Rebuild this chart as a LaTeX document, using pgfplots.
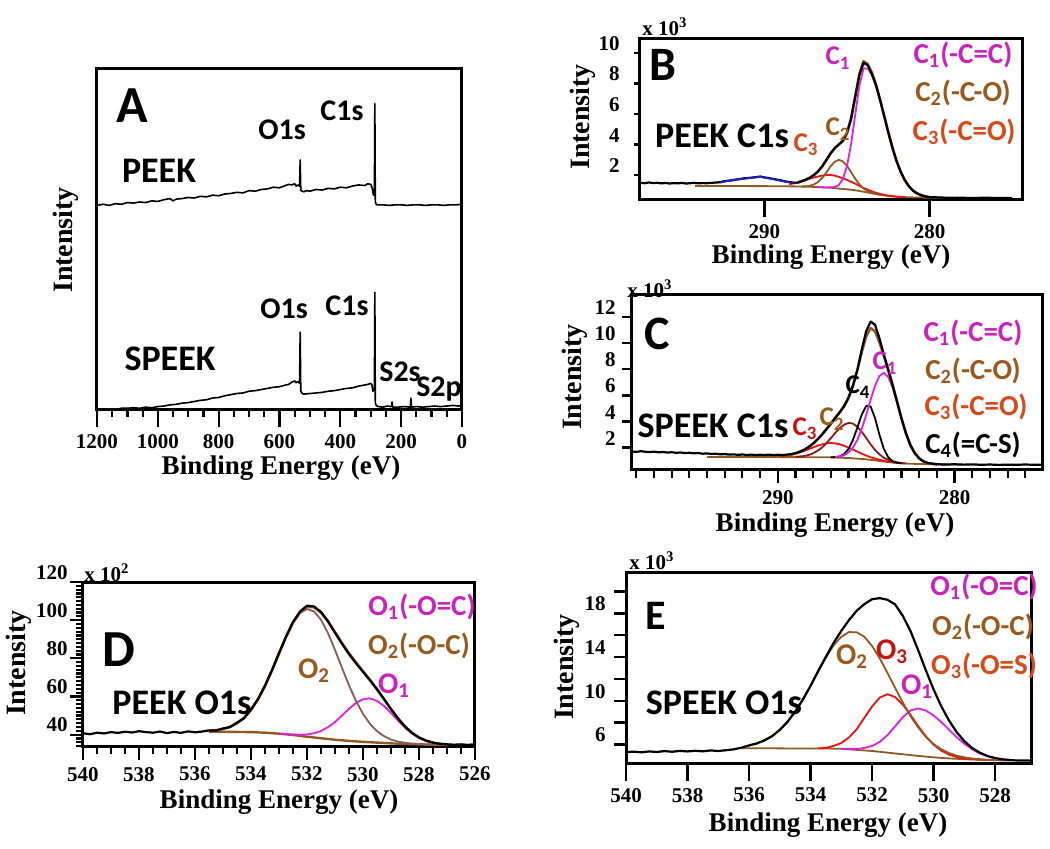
\documentclass[border=0pt]{standalone}
\usepackage{fontspec}
\setmainfont{Liberation Serif}
\newfontfamily\cb{Carlito}
\usepackage{pgfplots}
\pgfplotsset{compat=1.18}

\definecolor{magtxt}{HTML}{CC22BB}
\definecolor{brtxt}{HTML}{9A5A1E}
\definecolor{ortxt}{HTML}{D84818}
\definecolor{rdtxt}{HTML}{CC1010}
\definecolor{mcurve}{HTML}{E020E0}
\definecolor{bcurve}{HTML}{8E5A26}
\definecolor{rcurve}{HTML}{F01010}
\definecolor{maroon}{HTML}{8B1A1A}
\definecolor{dbrown}{HTML}{8A5C58}
\definecolor{bluec}{HTML}{2020D0}

\pgfplotsset{
  xps/.style={
    scale only axis, anchor=south west, x dir=reverse, no markers,
    axis line style={line width=1.5pt},
    tick style={line width=1.1pt, black},
    tick align=outside, scaled ticks=false,
    xtick pos=left, ytick pos=left,
    /pgf/number format/1000 sep={},
    /pgf/number format/assume math mode=true,
    xticklabel={\pgfmathprintnumber{\tick}},
    yticklabel={\pgfmathprintnumber{\tick}},
    ticklabel style={font=\bfseries\fontsize{10.5}{10.5}\selectfont},
    yticklabel style={anchor=south east, inner sep=1pt},
    every axis plot/.append style={line join=round},
  },
  dat/.style={black, line width=1.1pt},
  comp/.style={line width=0.9pt},
}

\begin{document}
\begin{tikzpicture}
\path[use as bounding box] (0,0) rectangle (525pt,-424.5pt);

% ---------------- A: survey
\begin{axis}[xps, at={(48.5pt,-205pt)}, width=182.5pt, height=170.5pt,
  xmin=0, xmax=1200, ymin=0, ymax=6,
  xtick={0,200,...,1200}, minor x tick num=3,
  ytick=\empty, minor ytick={1,2,3,4,5}, ytick align=inside, ytick pos=both,
  major tick length=8.5pt, minor tick length=3.5pt]
\addplot[black, line width=0.8pt] coordinates {
(1200,3.60)(1180,3.62)(1160,3.60)(1140,3.63)(1120,3.62)(1100,3.65)(1080,3.64)(1060,3.66)
(1040,3.65)(1020,3.68)(1000,3.67)(980,3.70)(960,3.72)(950,3.68)(940,3.71)(920,3.72)
(900,3.74)(880,3.73)(860,3.76)(840,3.75)(820,3.78)(800,3.77)(780,3.80)(760,3.81)
(740,3.83)(720,3.82)(700,3.86)(680,3.85)(660,3.88)(640,3.89)(620,3.92)(600,3.91)
(580,3.95)(570,3.97)(560,3.96)(550,3.98)(545,3.94)(540,3.96)(534,3.94)(532,4.40)
(530,3.86)(525,3.85)(520,3.84)(510,3.86)(500,3.85)(480,3.88)(460,3.87)(440,3.90)
(420,3.89)(400,3.92)(380,3.91)(360,3.94)(340,3.96)(320,3.95)(310,3.98)(300,3.97)
(295,3.90)(292,3.80)(290,3.78)(288,3.80)(286.5,5.39)(285,3.66)(282,3.62)(280,3.61)
(260,3.61)(240,3.60)(220,3.61)(200,3.61)(180,3.60)(160,3.61)(140,3.61)(120,3.60)
(100,3.61)(80,3.61)(60,3.60)(40,3.61)(20,3.61)(0,3.62)};
\addplot[black, line width=0.8pt] coordinates {
(1200,0.00)(1180,0.01)(1160,0.02)(1140,0.01)(1120,0.03)(1100,0.03)(1080,0.04)(1060,0.03)
(1040,0.05)(1020,0.04)(1000,0.06)(980,0.07)(960,0.09)(940,0.10)(920,0.12)(900,0.13)
(880,0.15)(860,0.17)(840,0.18)(820,0.21)(800,0.22)(780,0.25)(760,0.27)(740,0.29)
(720,0.30)(700,0.33)(680,0.34)(660,0.36)(640,0.38)(620,0.40)(600,0.41)(580,0.44)
(570,0.45)(560,0.49)(550,0.51)(545,0.48)(540,0.50)(534,0.47)(532,1.37)(530,0.33)
(525,0.29)(520,0.28)(500,0.29)(480,0.30)(460,0.31)(440,0.33)(420,0.34)(400,0.36)
(380,0.38)(360,0.39)(340,0.42)(320,0.44)(310,0.45)(300,0.47)(296,0.44)(293,0.33)
(290,0.35)(288,0.36)(286.5,2.07)(285,0.12)(282,0.08)(275,0.06)(260,0.05)(245,0.07)
(232,0.06)(230,0.14)(228,0.05)(210,0.05)(190,0.06)(170,0.05)(168,0.21)(166,0.05)
(150,0.06)(130,0.05)(110,0.06)(90,0.07)(70,0.06)(50,0.07)(30,0.08)(10,0.07)(0,0.08)};
\end{axis}

% ---------------- B: PEEK C1s
\begin{axis}[xps, at={(319.5pt,-100pt)}, width=191.5pt, height=80.5pt,
  xmin=274.4, xmax=297.6, ymin=0.36, ymax=10.92,
  xtick={280,290}, ytick={2,4,6,8,10},
  major tick length=8.5pt, y tick style={/pgfplots/major tick length=2.5pt}]
\addplot[bcurve, comp] coordinates {
(294.2,1.28)(293,1.28)(292,1.28)(291,1.27)(290,1.27)(289,1.26)(288,1.25)(287.5,1.23)
(287,1.22)(286.5,1.19)(286,1.17)(285.5,1.11)(285,1.06)(284.5,1.00)(284,0.90)(283.5,0.80)
(283,0.70)(282.5,0.63)(282,0.58)(281.5,0.55)(281,0.53)(280,0.51)(279,0.50)};
\addplot[rcurve, comp] coordinates {
(288.5,1.39)(288.25,1.45)(288,1.50)(287.75,1.58)(287.5,1.66)(287.25,1.75)(287,1.84)
(286.75,1.90)(286.5,1.96)(286.25,2.00)(286,2.00)(285.75,1.96)(285.5,1.88)(285.25,1.78)
(285,1.68)(284.75,1.55)(284.5,1.43)(284.25,1.29)(284,1.15)(283.75,1.04)(283.5,0.93)
(283.25,0.84)(283,0.76)(282.75,0.70)(282.5,0.65)(282,0.58)(281.5,0.55)};
\addplot[bcurve, comp] coordinates {
(287.75,1.25)(287.5,1.26)(287.25,1.30)(287,1.38)(286.75,1.54)(286.5,1.80)(286.25,2.16)
(286,2.56)(285.75,2.86)(285.5,3.00)(285.25,2.89)(285,2.60)(284.75,2.18)(284.5,1.75)
(284.25,1.39)(284,1.12)(283.75,0.95)(283.5,0.84)(283.25,0.76)(283,0.70)};
\addplot[mcurve, comp] coordinates {
(286.75,1.20)(286.5,1.19)(286.25,1.18)(286,1.19)(285.75,1.21)(285.5,1.34)(285.25,1.73)
(285,2.59)(284.75,4.04)(284.5,5.97)(284.25,7.87)(284,8.99)(283.75,8.99)(283.5,8.56)
(283.25,7.83)(283,6.89)(282.75,5.84)(282.5,4.78)(282.25,3.79)(282,2.92)(281.75,2.21)
(281.5,1.66)(281.25,1.26)(281,0.97)(280.75,0.79)(280.5,0.67)(280.25,0.59)(280,0.55)(279.5,0.52)};
\addplot[bcurve, line width=1.3pt] coordinates {
(288,1.50)(287.75,1.59)(287.5,1.69)(287.25,1.82)(287,2.00)(286.75,2.24)(286.5,2.57)
(286.25,2.98)(286,3.41)(285.75,3.75)(285.5,4.00)(285.25,4.24)(285,4.75)(284.75,5.71)
(284.5,7.15)(284.25,8.65)(284,9.46)(283.75,9.28)(283.5,8.73)(283.25,7.93)(283,6.95)
(282.75,5.88)(282.5,4.80)(282.25,3.80)(282,2.92)(281.75,2.21)(281.5,1.66)(281.25,1.26)
(281,0.97)(280.75,0.79)(280.5,0.67)(280.25,0.59)(280,0.55)};
\addplot[dat] coordinates {
(297.6,1.50)(297.25,1.46)(297,1.51)(296.75,1.47)(296.5,1.49)(296.25,1.45)(296,1.48)
(295.75,1.44)(295.5,1.47)(295.25,1.45)(295,1.48)(294.75,1.44)(294.5,1.46)(294.25,1.49)
(294,1.45)(293.75,1.47)(293.5,1.46)(293.25,1.48)(293,1.50)(292.75,1.52)(292.5,1.58)
(292.25,1.62)(292,1.65)(291.75,1.70)(291.5,1.73)(291.25,1.78)(291,1.80)(290.75,1.83)
(290.5,1.86)(290.25,1.90)(290,1.84)(289.75,1.80)(289.5,1.75)(289.25,1.70)(289,1.65)
(288.75,1.58)(288.5,1.54)(288.25,1.50)(288,1.50)(287.75,1.59)(287.5,1.69)(287.25,1.82)
(287,2.00)(286.75,2.24)(286.5,2.57)(286.25,2.98)(286,3.41)(285.75,3.75)(285.5,4.00)
(285.25,4.24)(285,4.75)(284.75,5.71)(284.5,7.15)(284.25,8.55)(284,9.36)(283.75,9.20)
(283.5,8.65)(283.25,7.93)(283,6.95)(282.75,5.88)(282.5,4.80)(282.25,3.80)(282,2.92)
(281.75,2.21)(281.5,1.66)(281.25,1.26)(281,0.97)(280.75,0.79)(280.5,0.67)(280.25,0.59)
(280,0.55)(279.5,0.53)(279,0.51)(278.5,0.50)(278,0.51)(277.5,0.49)(277,0.50)(276.5,0.51)
(276,0.49)(275.5,0.50)(275,0.50)};
\addplot[bluec, comp] coordinates {
(292.7,1.50)(292.25,1.60)(292,1.64)(291.5,1.72)(291,1.79)(290.5,1.85)(290.25,1.88)
(290,1.83)(289.5,1.73)(289,1.62)(288.5,1.52)(288.2,1.49)};
\end{axis}

% ---------------- C: SPEEK C1s
\begin{axis}[xps, at={(315.5pt,-235pt)}, width=206pt, height=87.5pt,
  xmin=275.0, xmax=298.3, ymin=0.28, ymax=13.7,
  xtick={280,290}, minor xtick={276,277,...,298}, ytick={2,4,...,12},
  major tick length=6.5pt, minor tick length=4pt,
  y tick style={/pgfplots/major tick length=4.5pt}]
\addplot[bcurve, comp] coordinates {
(294,1.28)(292,1.28)(290,1.27)(288,1.26)(287,1.25)(286.5,1.22)(286,1.20)(285.5,1.15)
(285,1.10)(284.5,1.02)(284,0.93)(283.5,0.85)(283,0.79)(282.5,0.76)(282,0.74)(281.5,0.72)
(281,0.71)(280.5,0.70)(279.5,0.70)};
\addplot[rcurve, comp] coordinates {
(289.75,1.34)(289.5,1.39)(289.25,1.45)(289,1.53)(288.75,1.63)(288.5,1.74)(288.25,1.87)
(288,2.01)(287.75,2.14)(287.5,2.24)(287.25,2.32)(287,2.35)(286.75,2.32)(286.5,2.25)
(286.25,2.14)(286,2.00)(285.75,1.85)(285.5,1.68)(285.25,1.53)(285,1.39)(284.75,1.26)
(284.5,1.16)(284.25,1.07)(284,0.98)(283.75,0.92)(283.5,0.87)(283.25,0.83)(283,0.80)};
\addplot[maroon, comp] coordinates {
(289,1.29)(288.75,1.32)(288.5,1.35)(288.25,1.43)(288,1.56)(287.75,1.75)(287.5,2.00)
(287.25,2.34)(287,2.72)(286.75,3.12)(286.5,3.48)(286.25,3.75)(286,3.89)(285.75,3.84)
(285.5,3.60)(285.25,3.21)(285,2.74)(284.75,2.25)(284.5,1.82)(284.25,1.48)(284,1.22)
(283.75,1.05)(283.5,0.93)(283.25,0.86)(283,0.81)(282.75,0.78)};
\addplot[black, comp] coordinates {
(287,1.26)(286.75,1.27)(286.5,1.32)(286.25,1.50)(286,1.89)(285.75,2.58)(285.5,3.53)
(285.25,4.53)(285,5.19)(284.75,5.16)(284.5,4.26)(284.25,2.98)(284,1.89)(283.75,1.25)
(283.5,0.95)(283.25,0.84)(283,0.79)};
\addplot[mcurve, comp] coordinates {
(286.75,1.28)(286.5,1.31)(286.25,1.41)(286,1.63)(285.75,2.00)(285.5,2.58)(285.25,3.44)
(285,4.50)(284.75,5.67)(284.5,6.74)(284.25,7.49)(284,7.73)(283.75,7.40)(283.5,6.57)
(283.25,5.43)(283,4.19)(282.75,3.08)(282.5,2.19)(282.25,1.57)(282,1.17)(281.75,0.93)
(281.5,0.81)(281.25,0.76)(281,0.72)(280.5,0.70)};
\addplot[bcurve, line width=1.3pt] coordinates {
(289.5,1.39)(289.25,1.46)(289,1.55)(288.75,1.68)(288.5,1.83)(288.25,2.04)(288,2.31)
(287.75,2.63)(287.5,2.99)(287.25,3.41)(287,3.83)(286.75,4.27)(286.5,4.70)(286.25,5.17)
(286,5.81)(285.75,6.73)(285.5,7.94)(285.25,9.32)(285,10.52)(284.75,11.16)(284.5,10.92)
(284.25,10.08)(284,9.03)(283.75,7.95)(283.5,6.77)(283.25,5.50)(283,4.22)(282.75,3.09)
(282.5,2.19)(282.25,1.57)(282,1.17)(281.75,0.93)(281.5,0.81)(281.25,0.76)(281,0.72)};
\addplot[dat] coordinates {
(298.25,1.70)(298,1.67)(297.75,1.72)(297.5,1.68)(297.25,1.65)(297,1.69)(296.75,1.64)
(296.5,1.66)(296.25,1.62)(296,1.64)(295.75,1.60)(295.5,1.62)(295.25,1.58)(295,1.60)
(294.75,1.56)(294.5,1.58)(294.25,1.53)(294,1.55)(293.75,1.51)(293.5,1.53)(293.25,1.48)
(293,1.50)(292.75,1.46)(292.5,1.48)(292.25,1.44)(292,1.47)(291.75,1.43)(291.5,1.46)
(291.25,1.42)(291,1.45)(290.75,1.43)(290.5,1.46)(290.25,1.42)(290,1.45)(289.75,1.42)
(289.5,1.46)(289.25,1.50)(289,1.57)(288.75,1.68)(288.5,1.83)(288.25,2.04)(288,2.31)
(287.75,2.63)(287.5,2.99)(287.25,3.41)(287,3.83)(286.75,4.27)(286.5,4.70)(286.25,5.17)
(286,5.81)(285.75,6.73)(285.5,7.94)(285.25,9.52)(285,10.92)(284.75,11.66)(284.5,11.42)
(284.25,10.38)(284,9.13)(283.75,7.95)(283.5,6.77)(283.25,5.50)(283,4.22)(282.75,3.09)
(282.5,2.19)(282.25,1.57)(282,1.17)(281.75,0.93)(281.5,0.81)(281.25,0.76)(281,0.72)
(280.5,0.70)(280,0.72)(279.5,0.69)(279,0.71)(278.5,0.68)(278,0.70)(277.5,0.67)(277,0.69)
(276.5,0.68)(276,0.70)(275.5,0.68)(275.1,0.69)};
\end{axis}

% ---------------- D: PEEK O1s
\begin{axis}[xps, at={(41.5pt,-373.5pt)}, width=196pt, height=82.5pt,
  xmin=526, xmax=540, ymin=33.5, ymax=120,
  xtick={526,528,...,540}, minor xtick={526,526.5,...,540},
  ytick={40,60,...,120}, minor ytick={34,36,...,120},
  major tick length=6.5pt, minor tick length=3.5pt]
\addplot[bcurve, line width=1.2pt] coordinates {
(535.5,41.6)(535,41.5)(534.5,41.4)(534,41.3)(533.5,41.0)(533,40.5)(532.5,39.8)(532,38.9)
(531.5,38.1)(531,37.3)(530.5,36.7)(530,36.2)(529.5,35.8)(529,35.4)(528.5,35.1)(528,34.9)
(527.5,34.7)(527,34.6)};
\addplot[mcurve, comp] coordinates {
(533,40.5)(532.75,40.3)(532.5,40.1)(532.25,39.9)(532,40.1)(531.75,40.7)(531.5,41.9)
(531.25,43.9)(531,46.6)(530.75,50.0)(530.5,53.5)(530.25,56.6)(530,58.5)(529.75,59.0)
(529.5,57.7)(529.25,55.0)(529,51.3)(528.75,47.4)(528.5,43.6)(528.25,40.6)(528,38.3)
(527.75,36.7)(527.5,35.7)(527.25,35.1)(527,34.8)(526.75,34.7)};
\addplot[dbrown, comp] coordinates {
(535.5,42.0)(535.25,42.3)(535,42.9)(534.75,44.1)(534.5,45.9)(534.25,48.8)(534,52.9)
(533.75,58.5)(533.5,65.5)(533.25,73.7)(533,82.5)(532.75,91.1)(532.5,98.5)(532.25,103.7)
(532,105.8)(531.75,104.6)(531.5,100.2)(531.25,93.2)(531,84.4)(530.75,75.0)(530.5,65.8)
(530.25,57.7)(530,50.9)(529.75,45.6)(529.5,41.8)(529.25,39.2)(529,37.4)(528.75,36.3)
(528.5,35.7)(528.25,35.3)(528,35.0)(527.5,34.7)};
\addplot[bcurve, line width=1.3pt] coordinates {
(535.5,42.0)(535.25,42.3)(535,42.9)(534.75,44.1)(534.5,45.9)(534.25,48.8)(534,52.9)
(533.75,58.5)(533.5,65.5)(533.25,73.7)(533,82.5)(532.75,91.2)(532.5,98.8)(532.25,104.2)
(532,107.0)(531.75,106.8)(531.5,104.0)(531.25,99.4)(531,93.7)(530.75,88.0)(530.5,82.6)
(530.25,77.8)(530,73.2)(529.75,68.6)(529.5,63.7)(529.25,58.6)(529,53.3)(528.75,48.4)
(528.5,44.2)(528.25,40.9)(528,38.4)(527.75,36.8)(527.5,35.7)(527.25,35.1)(527,34.8)};
\addplot[dat] coordinates {
(540,40.7)(539.75,40.2)(539.5,41.0)(539.25,40.6)(539,41.3)(538.75,40.9)(538.5,41.5)
(538.25,41.1)(538,41.8)(537.75,41.3)(537.5,41.0)(537.25,41.6)(537,40.8)(536.75,41.4)
(536.5,40.9)(536.25,41.7)(536,41.2)(535.75,41.6)(535.5,42.2)(535.25,42.1)(535,43.2)
(534.75,43.9)(534.5,46.3)(534.25,48.5)(534,53.2)(533.75,58.6)(533.5,65.7)(533.25,73.8)
(533,82.7)(532.75,91.3)(532.5,99.0)(532.25,104.5)(532,107.6)(531.75,107.2)(531.5,104.3)
(531.25,99.4)(531,93.4)(530.75,87.6)(530.5,82.2)(530.25,77.4)(530,72.9)(529.75,68.5)
(529.5,63.8)(529.25,58.7)(529,53.4)(528.75,48.5)(528.5,44.2)(528.25,40.9)(528,38.5)
(527.75,36.9)(527.5,35.8)(527.25,35.2)(527,34.9)(526.75,34.7)(526.5,34.9)(526.25,34.6)
(526,35.0)};
\end{axis}

% ---------------- E: SPEEK O1s
\begin{axis}[xps, at={(313pt,-381.5pt)}, width=203pt, height=95pt,
  xmin=526.8, xmax=540, ymin=4.3, ymax=21.7,
  xtick={528,530,...,540}, ytick={6,8,...,20}, yticklabels={6,,10,,14,,18,},
  major tick length=9pt, y tick style={/pgfplots/major tick length=6pt}]
\addplot[bcurve, comp] coordinates {
(536.25,5.65)(536,5.65)(535.5,5.65)(535,5.64)(534.5,5.63)(534,5.62)(533.5,5.63)(533,5.60)
(532.5,5.50)(532,5.40)(531.5,5.25)(531,5.10)(530.5,4.95)(530,4.82)(529.5,4.72)(529,4.65)
(528.5,4.60)(528,4.55)(527.5,4.52)};
\addplot[mcurve, comp] coordinates {
(533,5.60)(532.75,5.60)(532.5,5.58)(532.25,5.68)(532,5.86)(531.75,6.23)(531.5,6.85)
(531.25,7.66)(531,8.49)(530.75,9.11)(530.5,9.30)(530.25,9.10)(530,8.66)(529.75,8.05)
(529.5,7.36)(529.25,6.67)(529,6.06)(528.75,5.56)(528.5,5.19)(528.25,4.92)(528,4.74)
(527.75,4.63)(527.5,4.57)};
\addplot[rcurve, comp] coordinates {
(533.75,5.64)(533.5,5.68)(533.25,5.87)(533,6.13)(532.75,6.64)(532.5,7.39)(532.25,8.44)
(532,9.48)(531.75,10.29)(531.5,10.60)(531.25,10.34)(531,9.65)(530.75,8.71)(530.5,7.68)
(530.25,6.74)(530,5.98)(529.75,5.43)(529.5,5.07)(529.25,4.85)(529,4.72)(528.75,4.65)
(528.5,4.61)(528.25,4.57)};
\addplot[bcurve, comp] coordinates {
(536,5.91)(535.75,6.09)(535.5,6.37)(535.25,6.76)(535,7.33)(534.75,8.06)(534.5,9.00)
(534.25,10.11)(534,11.36)(533.75,12.70)(533.5,13.95)(533.25,15.07)(533,15.86)(532.75,16.29)
(532.5,16.27)(532.25,15.86)(532,15.02)(531.75,13.88)(531.5,12.56)(531.25,11.18)(531,9.83)
(530.75,8.60)(530.5,7.55)(530.25,6.70)(530,6.04)(529.75,5.56)(529.5,5.21)(529.25,4.97)
(529,4.82)(528.75,4.71)(528.5,4.65)(528.25,4.59)(528,4.56)};
\addplot[dat] coordinates {
(540,5.30)(539.75,5.34)(539.5,5.28)(539.25,5.36)(539,5.31)(538.75,5.39)(538.5,5.33)
(538.25,5.41)(538,5.36)(537.75,5.42)(537.5,5.37)(537.25,5.45)(537,5.40)(536.75,5.47)
(536.5,5.55)(536.25,5.70)(536,5.91)(535.75,6.09)(535.5,6.37)(535.25,6.76)(535,7.33)
(534.75,8.06)(534.5,9.00)(534.25,10.11)(534,11.36)(533.75,12.73)(533.5,14.04)(533.25,15.30)
(533,16.40)(532.75,17.39)(532.5,18.24)(532.25,18.85)(532,19.30)(531.75,19.40)(531.5,19.25)
(531.25,18.82)(531,17.77)(530.75,16.38)(530.5,14.63)(530.25,12.78)(530,11.04)(529.75,9.50)
(529.5,8.20)(529.25,7.13)(529,6.30)(528.75,5.68)(528.5,5.25)(528.25,4.94)(528,4.75)
(527.75,4.63)(527.5,4.57)(527.25,4.52)(527,4.52)(526.8,4.52)};
\end{axis}

% ---------------- text (pixel coordinates from the top-left corner)
\begin{scope}[x=0.5pt, y=-0.5pt]
\tikzset{
  big/.style={font=\cb\bfseries\fontsize{24}{24}\selectfont, inner sep=0pt},
  nm/.style={font=\cb\bfseries\fontsize{18}{18}\selectfont, inner sep=0pt},
  pk/.style={font=\cb\bfseries\fontsize{15}{15}\selectfont, inner sep=0pt},
  pl/.style={font=\cb\bfseries\fontsize{13.5}{13.5}\selectfont, inner sep=0pt},
  lg/.style={font=\cb\bfseries\fontsize{14.5}{14.5}\selectfont, inner sep=0pt},
  axl/.style={font=\bfseries\fontsize{13.5}{13.5}\selectfont, inner sep=0pt},
  inl/.style={font=\bfseries\fontsize{14}{14}\selectfont, inner sep=0pt, rotate=90},
  mul/.style={font=\bfseries\fontsize{10.5}{10.5}\selectfont, inner sep=0pt},
}
% A
\node[big, font=\cb\bfseries\fontsize{26}{26}\selectfont] at (132,106) {A};
\node[pk] at (282,130) {O1s};
\node[pk] at (342,111) {C1s};
\node[nm] at (159,171) {PEEK};
\node[nm] at (170,359) {SPEEK};
\node[pk] at (284,309) {O1s};
\node[pk] at (347,306) {C1s};
\node[pk] at (400,372) {S2s};
\node[pk] at (439,389) {S2p};
\node[inl] at (66,240) {Intensity};
\node[axl] at (281,468) {Binding Energy (eV)};
% B
\node[big] at (663,65) {B};
\node[nm] at (722,136) {PEEK C1s};
\node[pl, text=magtxt] at (838,58) {C\textsubscript{1}};
\node[pl, text=brtxt] at (838,129) {C\textsubscript{2}};
\node[pl, text=ortxt] at (806,145) {C\textsubscript{3}};
\node[lg, text=magtxt] at (963,55) {C\textsubscript{1}(-C=C)};
\node[lg, text=brtxt] at (963,93) {C\textsubscript{2}(-C-O)};
\node[lg, text=ortxt] at (964,132) {C\textsubscript{3}(-C=O)};
\node[mul] at (665,27) {x 10\textsuperscript{3}};
\node[inl] at (583,117) {Intensity};
\node[axl] at (831,257) {Binding Energy (eV)};
% C
\node[big] at (657,334) {C};
\node[nm] at (713,426) {SPEEK C1s};
\node[pl, text=magtxt] at (885,363) {C\textsubscript{1}};
\node[pl] at (858,387) {C\textsubscript{4}};
\node[pl, text=brtxt] at (832,419) {C\textsubscript{2}};
\node[pl, text=rdtxt] at (805,429) {C\textsubscript{3}};
\node[lg, text=magtxt] at (973,333) {C\textsubscript{1}(-C=C)};
\node[lg, text=brtxt] at (973,371) {C\textsubscript{2}(-C-O)};
\node[lg, text=ortxt] at (976,407) {C\textsubscript{3}(-C=O)};
\node[lg] at (973,445) {C\textsubscript{4}(=C-S)};
\node[mul] at (650,289) {x 10\textsuperscript{3}};
\node[inl] at (575,377) {Intensity};
\node[axl] at (835,525) {Binding Energy (eV)};
% D
\node[big, font=\cb\bfseries\fontsize{26}{26}\selectfont] at (119,650) {D};
\node[nm] at (182,703) {PEEK O1s};
\node[pk, text=brtxt] at (314,671) {O\textsubscript{2}};
\node[pk, text=magtxt] at (394,686) {O\textsubscript{1}};
\node[lg, text=magtxt] at (422,607) {O\textsubscript{1}(-O=C)};
\node[lg, text=brtxt] at (419,646) {O\textsubscript{2}(-O-C)};
\node[mul] at (107,573) {x 10\textsuperscript{2}};
\node[inl] at (19,663) {Intensity};
\node[axl] at (279,802) {Binding Energy (eV)};
% E
\node[big, font=\cb\bfseries\fontsize{21}{21}\selectfont] at (656,616) {E};
\node[nm] at (724,703) {SPEEK O1s};
\node[pk, text=brtxt] at (852,657) {O\textsubscript{2}};
\node[pk, text=rdtxt] at (892,652) {O\textsubscript{3}};
\node[pk, text=magtxt] at (917,687) {O\textsubscript{1}};
\node[lg, text=magtxt] at (984,587) {O\textsubscript{1}(-O=C)};
\node[lg, text=brtxt] at (983,627) {O\textsubscript{2}(-O-C)};
\node[lg, text=ortxt] at (984,666) {O\textsubscript{3}(-O=S)};
\node[mul] at (652,561) {x 10\textsuperscript{3}};
\node[inl] at (567,667) {Intensity};
\node[axl] at (828,825) {Binding Energy (eV)};
\end{scope}
\end{tikzpicture}
\end{document}
